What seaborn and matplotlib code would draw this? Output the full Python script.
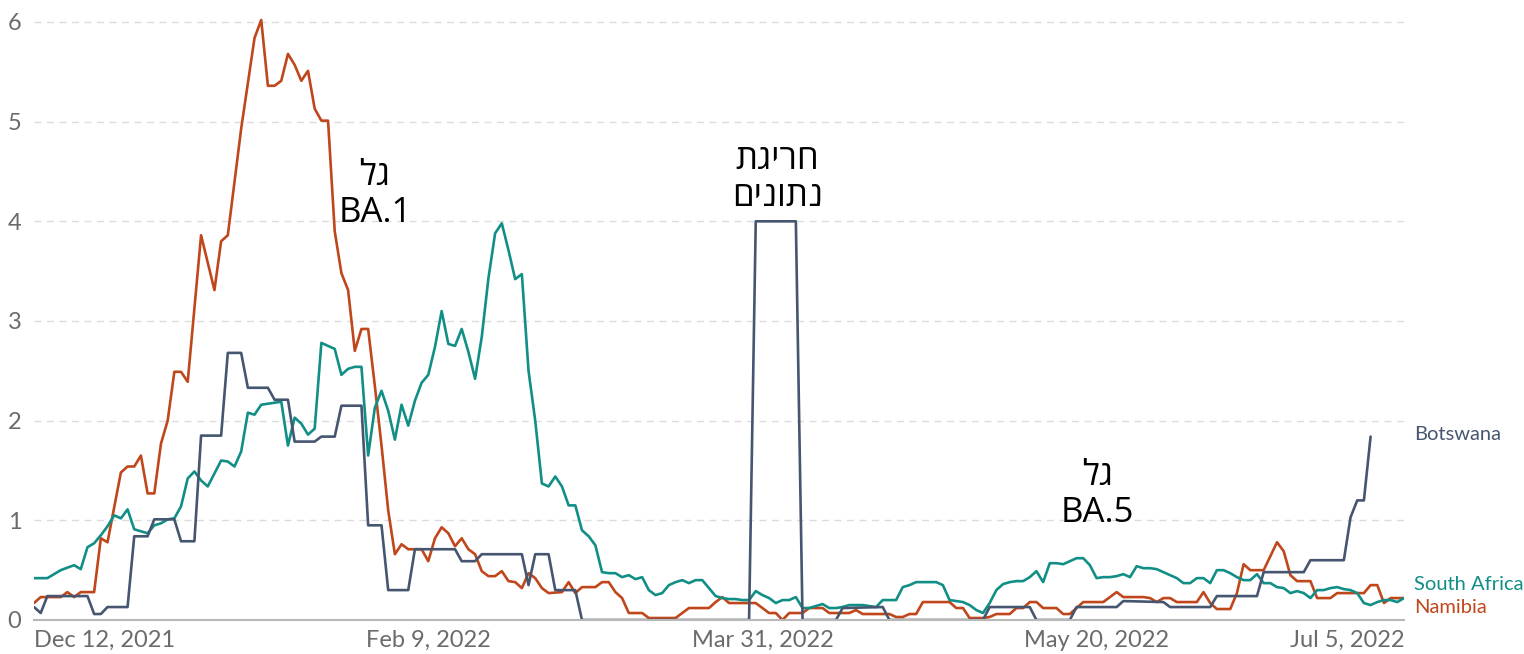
import pandas as pd
import matplotlib.pyplot as plt
import seaborn as sns

start = pd.Timestamp("2021-12-12")

# days counted from Dec 12, 2021
namibia_days = [0, 1, 4, 5, 6, 7, 9, 10, 11, 13, 14, 15, 16, 17, 18, 19, 20, 21, 22, 23, 25, 27, 28, 29, 31, 33, 34,
                35, 36, 37, 38, 39, 40, 41, 42, 43, 44, 45, 46, 47, 48, 49, 50, 51, 52, 53, 54, 55, 56, 57, 58, 59,
                60, 61, 62, 63, 64, 65, 66, 67, 68, 69, 70, 71, 72, 73, 74, 75, 76, 77, 79, 80, 81, 82, 84, 85, 86,
                87, 88, 89, 91, 92, 96, 97, 98, 101, 102, 103, 104, 108, 109, 110, 111, 112, 113, 115, 116, 118, 119,
                122, 123, 124, 128, 129, 130, 131, 132, 133, 137, 138, 139, 140, 142, 143, 144, 146, 147, 148, 149,
                150, 151, 153, 154, 155, 156, 157, 160, 162, 163, 166, 167, 168, 169, 170, 171, 174, 175, 176, 177,
                179, 180, 181, 182, 184, 186, 187, 188, 189, 191, 192, 194, 195, 199, 200, 201, 202, 203, 205]
namibia = [0.17, 0.23, 0.23, 0.28, 0.23, 0.28, 0.28, 0.82, 0.78, 1.48, 1.54, 1.54, 1.65, 1.27, 1.27, 1.77, 2.0, 2.49,
           2.49, 2.39, 3.86, 3.31, 3.80, 3.86, 4.93, 5.84, 6.02, 5.36, 5.36, 5.41, 5.68, 5.57, 5.41, 5.51, 5.13, 5.01,
           5.01, 3.9, 3.48, 3.31, 2.70, 2.92, 2.92, 2.35, 1.75, 1.1, 0.66, 0.76, 0.71, 0.71, 0.71, 0.59, 0.82, 0.93,
           0.87, 0.74, 0.82, 0.71, 0.66, 0.49, 0.44, 0.44, 0.49, 0.39, 0.38, 0.32, 0.47, 0.42, 0.32, 0.27, 0.28, 0.38,
           0.27, 0.33, 0.33, 0.38, 0.38, 0.28, 0.22, 0.07, 0.07, 0.02, 0.02, 0.07, 0.12, 0.12, 0.18, 0.23, 0.17, 0.17,
           0.12, 0.07, 0.07, 0.0, 0.07, 0.07, 0.12, 0.12, 0.07, 0.07, 0.10, 0.06, 0.06, 0.03, 0.03, 0.06, 0.06, 0.18,
           0.18, 0.12, 0.12, 0.02, 0.02, 0.03, 0.06, 0.06, 0.12, 0.12, 0.18, 0.18, 0.12, 0.12, 0.06, 0.06, 0.12, 0.18,
           0.18, 0.28, 0.23, 0.23, 0.22, 0.18, 0.22, 0.22, 0.18, 0.18, 0.28, 0.17, 0.11, 0.11, 0.27, 0.56, 0.50, 0.50,
           0.78, 0.69, 0.45, 0.39, 0.39, 0.22, 0.22, 0.27, 0.27, 0.35, 0.35, 0.17, 0.22, 0.22]

south_africa_days = [0, 2, 4, 6, 7, 8, 9, 10, 11, 12, 13, 14, 15, 16, 17, 18, 19, 20, 21, 22, 23, 24, 25, 26, 27, 28,
                     29, 30, 31, 32, 33, 34, 35, 37, 38, 39, 40, 41, 42, 43, 44, 45, 46, 47, 48, 49, 50, 51, 52, 53,
                     54, 55, 56, 57, 58, 59, 60, 61, 62, 63, 64, 65, 66, 67, 68, 69, 70, 71, 72, 73, 74, 75, 76, 77,
                     78, 79, 80, 81, 82, 83, 84, 85, 86, 87, 88, 89, 90, 91, 92, 93, 94, 95, 96, 97, 98, 99, 100,
                     101, 102, 103, 104, 105, 106, 107, 108, 109, 110, 111, 112, 113, 114, 115, 116, 117, 118, 119,
                     120, 121, 122, 123, 124, 126, 127, 129, 130, 131, 132, 135, 136, 137, 139, 140, 141, 142, 143,
                     144, 145, 146, 147, 148, 149, 150, 151, 152, 153, 154, 155, 156, 157, 158, 159, 160, 161, 162,
                     163, 164, 165, 166, 167, 168, 169, 170, 171, 172, 173, 174, 175, 176, 177, 178, 179, 180, 181,
                     182, 183, 184, 185, 186, 187, 188, 189, 190, 191, 192, 193, 194, 195, 196, 197, 198, 199, 200,
                     201, 202, 203, 204, 205]
south_africa = [0.42, 0.42, 0.50, 0.55, 0.51, 0.73, 0.77, 0.85, 0.94, 1.05, 1.02, 1.11, 0.91, 0.89, 0.87, 0.95, 0.97,
                1.01, 1.02, 1.14, 1.42, 1.49, 1.40, 1.34, 1.47, 1.60, 1.59, 1.54, 1.69, 2.08, 2.06, 2.16, 2.17, 2.19,
                1.75, 2.03, 1.97, 1.86, 1.92, 2.78, 2.75, 2.72, 2.46, 2.52, 2.54, 2.54, 1.65, 2.13, 2.30, 2.10, 1.81,
                2.16, 1.95, 2.20, 2.38, 2.46, 2.74, 3.10, 2.77, 2.75, 2.92, 2.69, 2.42, 2.84, 3.43, 3.88, 3.98, 3.71,
                3.42, 3.47, 2.50, 2.0, 1.37, 1.34, 1.44, 1.34, 1.15, 1.15, 0.90, 0.84, 0.75, 0.48, 0.47, 0.47, 0.43,
                0.45, 0.41, 0.43, 0.30, 0.25, 0.27, 0.35, 0.38, 0.40, 0.37, 0.40, 0.40, 0.32, 0.24, 0.22, 0.21, 0.21,
                0.20, 0.20, 0.29, 0.25, 0.22, 0.17, 0.20, 0.20, 0.23, 0.12, 0.12, 0.14, 0.16, 0.12, 0.12, 0.13, 0.15,
                0.15, 0.15, 0.13, 0.20, 0.20, 0.33, 0.35, 0.38, 0.38, 0.35, 0.20, 0.18, 0.15, 0.10, 0.07, 0.17, 0.30,
                0.36, 0.38, 0.39, 0.39, 0.43, 0.49, 0.38, 0.57, 0.57, 0.56, 0.59, 0.62, 0.62, 0.55, 0.42, 0.43, 0.43,
                0.44, 0.46, 0.43, 0.54, 0.52, 0.52, 0.51, 0.48, 0.45, 0.42, 0.37, 0.37, 0.42, 0.42, 0.37, 0.50, 0.50,
                0.47, 0.43, 0.40, 0.40, 0.46, 0.37, 0.37, 0.33, 0.32, 0.27, 0.29, 0.27, 0.22, 0.30, 0.30, 0.32, 0.33,
                0.31, 0.30, 0.27, 0.17, 0.15, 0.18, 0.20, 0.20, 0.18, 0.22]

botswana_days = [0, 1, 2, 8, 9, 10, 11, 14, 15, 17, 18, 21, 22, 24, 25, 28, 29, 31, 32, 35, 36, 38, 39, 42, 43, 45,
                 46, 49, 50, 52, 53, 56, 57, 63, 64, 66, 67, 73, 74, 75, 77, 78, 81, 82, 107, 108, 114, 115, 120,
                 121, 127, 128, 142, 143, 149, 150, 155, 156, 162, 163, 169, 170, 176, 177, 183, 184, 190, 191,
                 196, 197, 198, 199, 200]
botswana = [0.13, 0.07, 0.24, 0.24, 0.06, 0.06, 0.13, 0.13, 0.84, 0.84, 1.01, 1.01, 0.79, 0.79, 1.85, 1.85, 2.68,
            2.68, 2.33, 2.33, 2.21, 2.21, 1.79, 1.79, 1.84, 1.84, 2.15, 2.15, 0.95, 0.95, 0.30, 0.30, 0.71, 0.71,
            0.59, 0.59, 0.66, 0.66, 0.35, 0.66, 0.66, 0.30, 0.30, 0.0, 0.0, 4.0, 4.0, 0.0, 0.0, 0.12, 0.13, 0.0,
            0.0, 0.13, 0.13, 0.0, 0.0, 0.13, 0.13, 0.19, 0.18, 0.13, 0.13, 0.24, 0.24, 0.48, 0.48, 0.60, 0.60,
            1.03, 1.20, 1.20, 1.84]

tick_labels = ["Dec 12, 2021", "Feb 9, 2022", "Mar 31, 2022", "May 20, 2022", "Jul 5, 2022"]

# annotation lines (logical order) and where they sit: day offset, value
notes = [(["גל", "BA.1"], 51, 4.27), (["חריגת", "נתונים"], 111.2, 4.43), (["גל", "BA.5"], 159.1, 1.26)]

colors = {"Botswana": "#465670", "South Africa": "#118f86", "Namibia": "#c0461b"}


def visual(line):
    # matplotlib has no bidi support, so hebrew lines are drawn reversed
    if any("\u0590" <= ch <= "\u05ff" for ch in line):
        return line[::-1]
    return line


frames = []
for name, days, vals in [("Namibia", namibia_days, namibia),
                         ("South Africa", south_africa_days, south_africa),
                         ("Botswana", botswana_days, botswana)]:
    frames.append(pd.DataFrame({"date": start + pd.to_timedelta(days, unit="D"),
                                "value": vals, "country": name}))
df = pd.concat(frames, ignore_index=True)

sns.set_theme(style="white")
plt.rcParams["font.family"] = ["Lato", "DejaVu Sans"]

fig = plt.figure(figsize=(15.24, 6.54), dpi=100)
ax = fig.add_axes([34 / 1524, 34 / 654, 1370 / 1524, 603 / 654])

sns.lineplot(data=df, x="date", y="value", hue="country", palette=colors,
             linewidth=1.9, legend=False, ax=ax, estimator=None)

ax.set_xlim(start, pd.Timestamp("2022-07-05"))
ax.set_ylim(0, 6.05)
ax.set_yticks(range(0, 7))
ax.yaxis.grid(True, linestyle=(0, (5, 4)), color="#dcdcdc", linewidth=1)
ax.set_axisbelow(True)
for s in ["top", "right", "left"]:
    ax.spines[s].set_visible(False)
ax.spines["bottom"].set_color("#b8b8b8")
ax.spines["bottom"].set_linewidth(1.5)

ticks = pd.to_datetime(tick_labels, format="%b %d, %Y")
ax.set_xticks(ticks)
ax.set_xticklabels(tick_labels)
labs = ax.get_xticklabels()
labs[0].set_ha("left")
labs[-1].set_ha("right")
ax.tick_params(axis="x", length=6, width=1, color="#b8b8b8", labelcolor="#6b6b6b",
               labelsize=17, pad=1)
ax.tick_params(axis="y", length=0, labelcolor="#6b6b6b", labelsize=17, pad=9)
ax.set_xlabel("")
ax.set_ylabel("")

for lines, d, y in notes:
    ax.text(start + pd.Timedelta(days=d), y, "\n".join(visual(t) for t in lines),
            ha="center", va="center", fontsize=25, color="black", linespacing=1.1,
            family=["Open Sans", "DejaVu Sans"])

for name, ypos in [("Botswana", 1.86), ("South Africa", 0.36), ("Namibia", 0.13)]:
    ax.annotate(name, xy=(1, ypos), xycoords=("axes fraction", "data"), xytext=(7, 0),
                textcoords="offset points", va="center", ha="left", fontsize=14.5,
                color=colors[name], annotation_clip=False)

fig.savefig("out.png", dpi=100)
